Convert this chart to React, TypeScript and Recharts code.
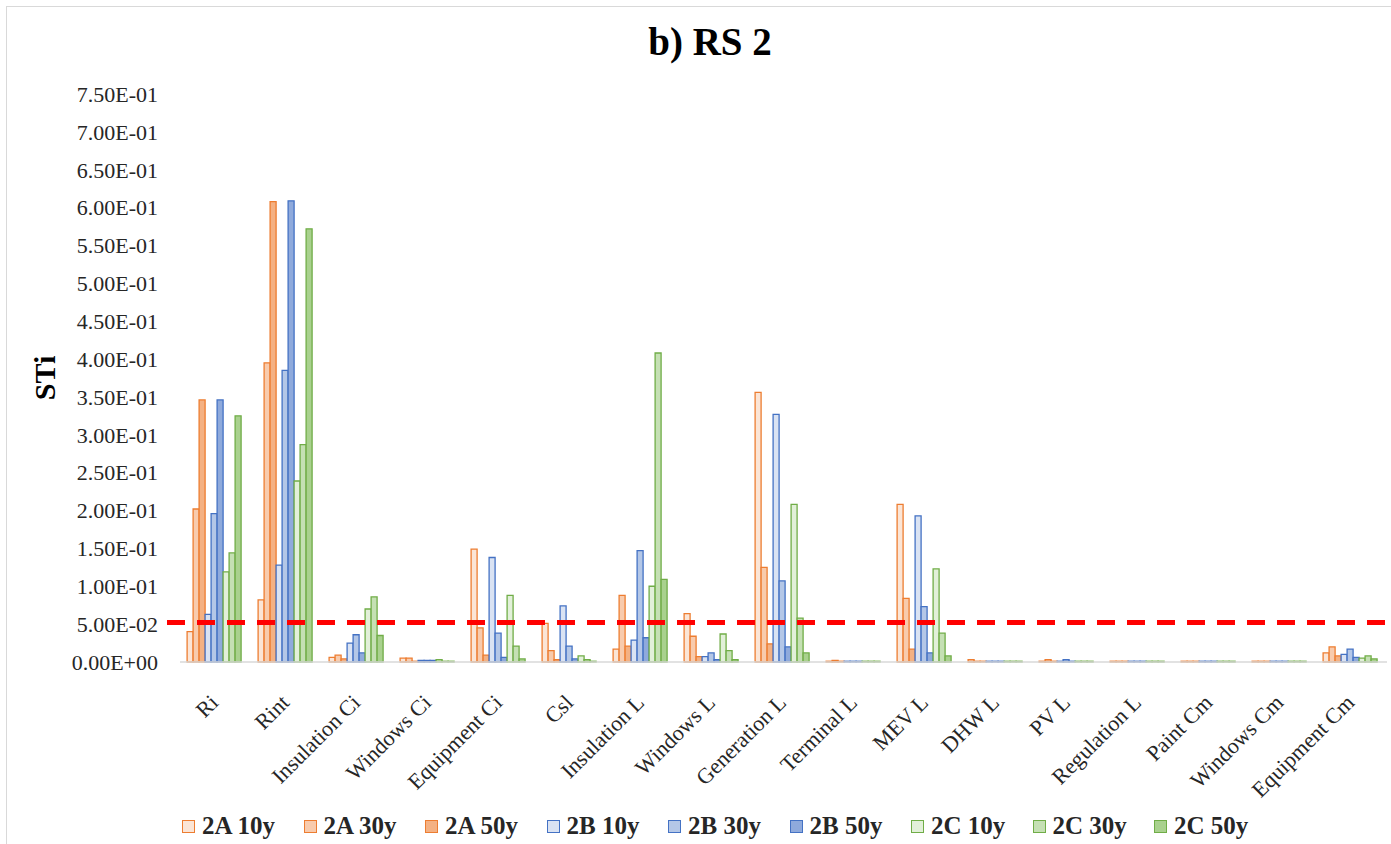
import React from 'react';
import { BarChart, Bar, XAxis, YAxis, ReferenceLine, Legend } from 'recharts';

const categories = [
  'Ri', 'Rint', 'Insulation Ci', 'Windows Ci', 'Equipment Ci', 'Csl', 'Insulation L', 'Windows L',
  'Generation L', 'Terminal L', 'MEV L', 'DHW L', 'PV L', 'Regulation L', 'Paint Cm', 'Windows Cm', 'Equipment Cm',
];

const s2A10 = [0.040, 0.082, 0.006, 0.005, 0.149, 0.051, 0.017, 0.064, 0.356, 0.001, 0.208, 0.003, 0.001, 0.001, 0.001, 0.001, 0.012];
const s2A30 = [0.202, 0.395, 0.009, 0.005, 0.045, 0.015, 0.088, 0.034, 0.125, 0.002, 0.084, 0.001, 0.003, 0.001, 0.001, 0.001, 0.020];
const s2A50 = [0.346, 0.608, 0.004, 0.001, 0.009, 0.003, 0.021, 0.007, 0.024, 0.001, 0.017, 0.001, 0.001, 0.001, 0.001, 0.001, 0.008];
const s2B10 = [0.063, 0.128, 0.025, 0.002, 0.138, 0.074, 0.029, 0.007, 0.327, 0.001, 0.193, 0.001, 0.001, 0.001, 0.001, 0.001, 0.010];
const s2B30 = [0.196, 0.385, 0.036, 0.002, 0.038, 0.021, 0.147, 0.012, 0.107, 0.001, 0.073, 0.001, 0.003, 0.001, 0.001, 0.001, 0.017];
const s2B50 = [0.346, 0.609, 0.012, 0.002, 0.006, 0.004, 0.032, 0.003, 0.020, 0.001, 0.012, 0.001, 0.001, 0.001, 0.001, 0.001, 0.006];
const s2C10 = [0.119, 0.239, 0.070, 0.003, 0.088, 0.008, 0.100, 0.037, 0.208, 0.001, 0.123, 0.001, 0.001, 0.001, 0.001, 0.001, 0.005];
const s2C30 = [0.144, 0.287, 0.086, 0.001, 0.021, 0.003, 0.408, 0.015, 0.058, 0.001, 0.038, 0.001, 0.001, 0.001, 0.001, 0.001, 0.008];
const s2C50 = [0.325, 0.572, 0.035, 0.001, 0.004, 0.001, 0.109, 0.003, 0.012, 0.001, 0.008, 0.001, 0.001, 0.001, 0.001, 0.001, 0.004];

const yTicks = [0, 0.05, 0.1, 0.15, 0.2, 0.25, 0.3, 0.35, 0.4, 0.45, 0.5, 0.55, 0.6, 0.65, 0.7, 0.75];
const threshold = 0.052;

const series = [
  { key: '2A 10y', values: s2A10, fill: '#FBE5D6', stroke: '#ED7D31' },
  { key: '2A 30y', values: s2A30, fill: '#F8CBAD', stroke: '#ED7D31' },
  { key: '2A 50y', values: s2A50, fill: '#F4B183', stroke: '#ED7D31' },
  { key: '2B 10y', values: s2B10, fill: '#DAE3F3', stroke: '#4472C4' },
  { key: '2B 30y', values: s2B30, fill: '#B4C7E7', stroke: '#4472C4' },
  { key: '2B 50y', values: s2B50, fill: '#8FAADC', stroke: '#4472C4' },
  { key: '2C 10y', values: s2C10, fill: '#E2F0D9', stroke: '#70AD47' },
  { key: '2C 30y', values: s2C30, fill: '#C5E0B4', stroke: '#70AD47' },
  { key: '2C 50y', values: s2C50, fill: '#A9D18E', stroke: '#70AD47' },
];

const data = categories.map((name, i) => {
  const row: Record<string, string | number> = { name };
  series.forEach((s) => { row[s.key] = s.values[i]; });
  return row;
});

const FONT = '"Liberation Serif", "Times New Roman", serif';

const sci = (v: number) => {
  const [m, e] = v.toExponential(2).split('e');
  const n = parseInt(e, 10);
  return `${m}E${n < 0 ? '-' : '+'}${String(Math.abs(n)).padStart(2, '0')}`;
};

const CategoryTick = (props: any) => {
  const { x, y, payload } = props;
  const ax = x + 4;
  const ay = y + 34;
  return (
    <text x={ax} y={ay} transform={`rotate(-45, ${ax}, ${ay})`} textAnchor="end"
      fontFamily={FONT} fontSize={22} fill="#262626">
      {payload.value}
    </text>
  );
};

const DashedLine = (props: any) => {
  const { x1, x2, y1, y2 } = props;
  return <line x1={x1 - 13} x2={x2 + 4} y1={y1} y2={y2} stroke="#FF0000" strokeWidth={5} strokeDasharray="18 12" />;
};

const LegendContent = () => (
  <div style={{ display: 'flex', paddingLeft: 182, height: 40, alignItems: 'center', paddingTop: 2 }}>
    {series.map((s) => (
      <div key={s.key} style={{ width: 121.5, display: 'flex', alignItems: 'center', flexShrink: 0 }}>
        <span style={{ width: 11, height: 11, background: s.fill, border: `1px solid ${s.stroke}`, marginRight: 7 }} />
        <span style={{ fontFamily: FONT, fontWeight: 'bold', fontSize: 25, color: '#262626', whiteSpace: 'nowrap' }}>{s.key}</span>
      </div>
    ))}
  </div>
);

export default function App() {
  return (
    <div style={{ position: 'absolute', left: 0, top: 0, width: 1391, height: 844, background: '#fff', overflow: 'hidden' }}>
      <div style={{ position: 'absolute', left: 6, top: 6, width: 1400, height: 850, border: '1px solid #d9d9d9' }} />
      <div style={{ position: 'absolute', left: 0, top: 22, width: 1420, textAlign: 'center', fontFamily: FONT, fontWeight: 'bold', fontSize: 39, lineHeight: '39px', color: '#000' }}>
        b) RS 2
      </div>
      <div style={{ position: 'absolute', left: 0, top: 0 }}>
        <BarChart width={1391} height={844} data={data} margin={{ top: 94, right: 4, left: 0, bottom: 0 }}
          barCategoryGap="10%" barGap={0}>
          <XAxis dataKey="name" interval={0} height={142} tick={<CategoryTick />} tickLine={false}
            axisLine={{ stroke: '#d9d9d9', strokeWidth: 1.5 }} />
          <YAxis domain={[0, 0.75]} ticks={yTicks} tickFormatter={sci} width={180} axisLine={false} tickLine={false}
            tickSize={0} tickMargin={22} interval={0}
            tick={{ fontFamily: FONT, fontSize: 22, fill: '#262626' }}
            label={{ value: 'STi', angle: -90, position: 'center', dx: -46, style: { fontFamily: FONT, fontSize: 30, fontWeight: 'bold', fill: '#000' } }} />
          {series.map((s) => (
            <Bar key={s.key} dataKey={s.key} fill={s.fill} stroke={s.stroke} strokeWidth={1.3} isAnimationActive={false} />
          ))}
          <ReferenceLine y={threshold} shape={<DashedLine />} />
          <Legend verticalAlign="bottom" height={40} content={<LegendContent />} />
        </BarChart>
      </div>
    </div>
  );
}
